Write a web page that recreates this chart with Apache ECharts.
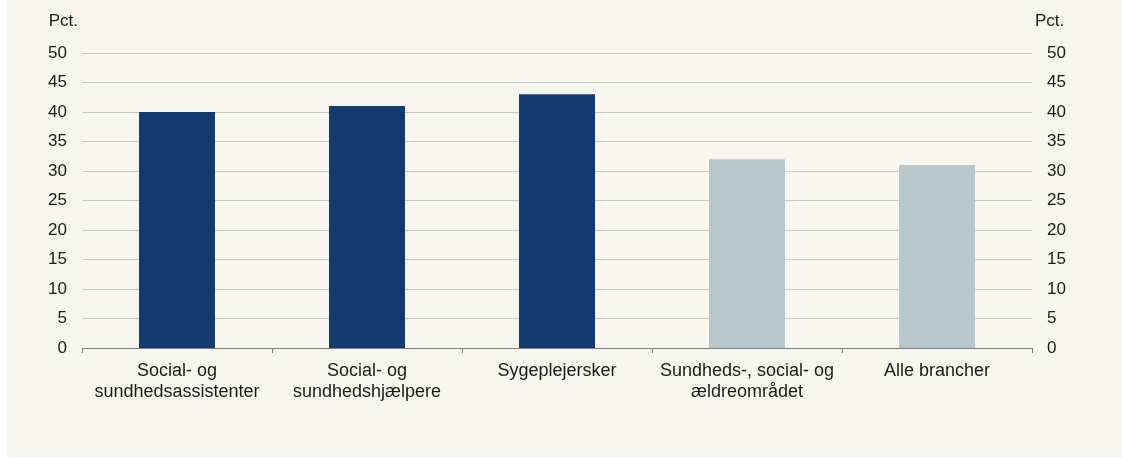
<!DOCTYPE html>
<html>
<head>
<meta charset="utf-8">
<script src="https://cdn.jsdelivr.net/npm/echarts@6/dist/echarts.min.js"></script>
<style>
html,body{margin:0;padding:0;background:#ffffff;}
#chart{position:absolute;left:6px;top:0;width:1116px;height:457px;background:#f7f7ef;}
</style>
</head>
<body>
<div id="chart"></div>
<script>
const categories = ["Social- og\nsundhedsassistenter", "Social- og\nsundhedshjælpere", "Sygeplejersker", "Sundheds-, social- og\nældreområdet", "Alle brancher"];
const values = [40, 41, 43, 32, 31];
const barColors = ["#143a6f", "#143a6f", "#143a6f", "#b8c7cb", "#b8c7cb"];
const axisUnit = "Pct.";

const chart = echarts.init(document.getElementById('chart'), null, {renderer: 'canvas'});
const font = 'Liberation Sans, Arial, sans-serif';
const yCommon = {
  type: 'value', min: 0, max: 50, interval: 5,
  name: axisUnit,
  nameLocation: 'end',
  nameGap: 23,
  axisLine: {show: false},
  axisTick: {show: false},
  splitLine: {show: true, lineStyle: {color: '#c9c9c4', width: 1}},
  axisLabel: {color: '#1a1a1a', fontSize: 17, fontFamily: font, margin: 15},
  nameTextStyle: {color: '#1a1a1a', fontSize: 17, fontFamily: font}
};
chart.setOption({
  animation: false,
  grid: {left: 76, right: 90, top: 53, bottom: 109},
  xAxis: {
    type: 'category',
    data: categories,
    axisLine: {lineStyle: {color: '#7f7f7f', width: 1}},
    axisTick: {show: true, length: 5, inside: false, alignWithLabel: false, lineStyle: {color: '#7f7f7f'}},
    axisLabel: {color: '#1a1a1a', fontSize: 18, fontFamily: font, margin: 13, lineHeight: 21, interval: 0}
  },
  yAxis: [
    Object.assign({}, yCommon, {position: 'left', nameTextStyle: Object.assign({}, yCommon.nameTextStyle, {align: 'right', padding: [0, 4, 0, 0]})}),
    Object.assign({}, yCommon, {position: 'right', splitLine: {show: false}, axisLabel: Object.assign({}, yCommon.axisLabel, {margin: 15}), nameTextStyle: Object.assign({}, yCommon.nameTextStyle, {align: 'left', padding: [0, 0, 0, 3]})})
  ],
  series: [{
    type: 'bar',
    data: values.map((v, i) => ({value: v, itemStyle: {color: barColors[i]}})),
    barWidth: '40%',
    yAxisIndex: 0
  }]
});
</script>
</body>
</html>
